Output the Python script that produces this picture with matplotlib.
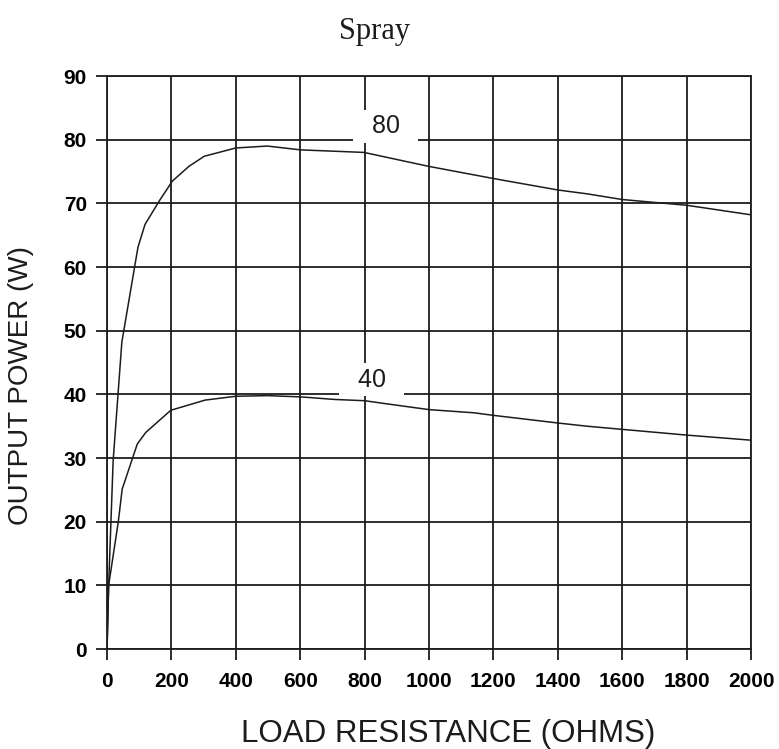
# -*- coding: utf-8 -*-
"""
Output power vs load resistance, spray mode, two power settings.
"""

#%% import modules
import matplotlib
matplotlib.use('Agg')
import matplotlib.pyplot as plt
import numpy as np

# set default fonts
plt.rcParams.update({'font.family': 'sans-serif'})
plt.rcParams.update({'font.sans-serif': ['Liberation Sans', 'DejaVu Sans']})
plt.rcParams.update({'font.size': 14})

plt.close('all')

#%% data

# 80 setting
load_80 = [0, 5, 19, 46, 96, 118, 165, 203, 254, 302, 400, 498, 601, 798,
           1000, 1200, 1400, 1490, 1600, 1800, 2000]
power_80 = [0, 10, 29.6, 48.2, 63.1, 66.7, 70.6, 73.5, 75.8, 77.4, 78.7, 79.0,
            78.4, 78.0, 75.8, 73.9, 72.1, 71.5, 70.6, 69.7, 68.2]

# 40 setting
load_40 = [0, 5, 35, 47, 78, 94, 120, 198, 305, 400, 498, 602, 706, 800, 870,
           1000, 1140, 1200, 1400, 1490, 1600, 1800, 2000]
power_40 = [0, 10, 20, 25.1, 29.8, 32.2, 34.0, 37.5, 39.1, 39.7, 39.8, 39.6,
            39.2, 39.0, 38.5, 37.6, 37.1, 36.7, 35.5, 35.0, 34.5, 33.6, 32.8]

curve_labels = ['80', '40']
label_pos = [(865, 82.1), (822, 42.3)]

x_ticks = np.arange(0, 2001, 200)
y_ticks = np.arange(0, 91, 10)

#%% plot
ink = '#1c1c1c'

fig = plt.figure(figsize=(7.79, 7.49), dpi=100)
ax = fig.add_axes([0.1374, 0.1335, 0.8267, 0.765])

ax.plot(load_80, power_80, color=ink, lw=1.1, zorder=3)
ax.plot(load_40, power_40, color=ink, lw=1.1, zorder=3)

# curve labels sit in white boxes that break the grid
for lab, (xx, yy) in zip(curve_labels, label_pos):
    ax.text(xx, yy, '  ' + lab + '  ', fontsize=18, color=ink,
            ha='center', va='center', zorder=2.5,
            bbox=dict(boxstyle='square,pad=0.17', fc='white', ec='none'))

ax.set_xlim(0, 2000)
ax.set_ylim(0, 90)
ax.set_xticks(x_ticks)
ax.set_yticks(y_ticks)
ax.grid(True, color=ink, lw=1.3)
ax.set_axisbelow(True)

for sp in ax.spines.values():
    sp.set_color(ink)
    sp.set_linewidth(1.3)

ax.tick_params(axis='both', direction='out', length=8, width=1.3, color=ink,
               labelsize=15)
ax.tick_params(axis='y', pad=6.5)
ax.tick_params(axis='x', pad=8.5)
for t in ax.get_xticklabels() + ax.get_yticklabels():
    t.set_fontweight('bold')

ax.set_xlabel('LOAD RESISTANCE (OHMS)', fontsize=22.5, color=ink)
ax.xaxis.set_label_coords(0.529, -0.148)
ax.xaxis.label.set_va('center')
ax.set_ylabel('OUTPUT POWER (W)', fontsize=20, color=ink)
ax.yaxis.set_label_coords(-0.1335, 0.46)
ax.yaxis.label.set_va('center')

fig.text(0.481, 0.948, 'Spray', family='Liberation Serif', fontsize=22,
         ha='center', va='baseline', color=ink)

plt.savefig('out.png', dpi=100)
